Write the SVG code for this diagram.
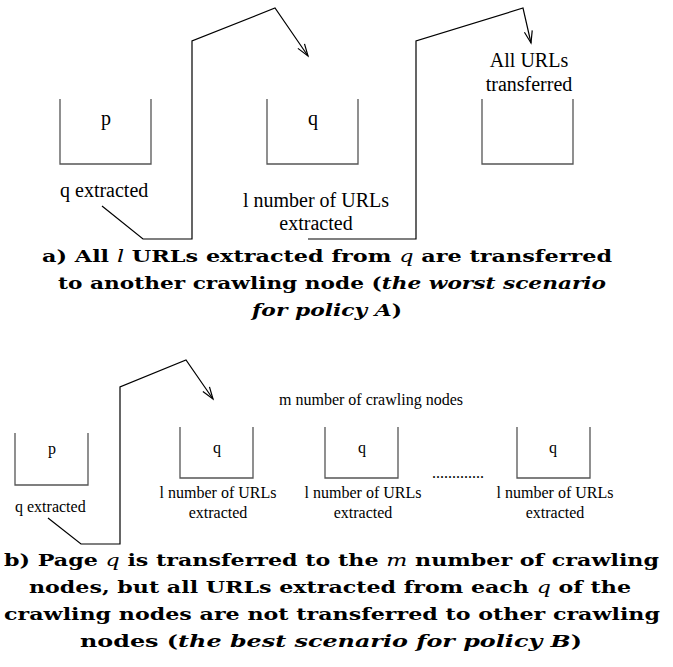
<svg xmlns="http://www.w3.org/2000/svg" width="673" height="667" viewBox="0 0 673 667">
<style>
.box{fill:none;stroke:#555;stroke-width:1.3}
.con{fill:none;stroke:#000;stroke-width:1.2}
.t20{font-family:"Liberation Serif",serif;font-size:20px;fill:#000}
.t16{font-family:"Liberation Serif",serif;font-size:16px;fill:#000}
.cap{font-family:"DejaVu Serif",serif;font-size:17px;font-weight:bold;fill:#000}
.bi{font-style:italic}
.mi{font-style:italic;font-weight:normal}
</style>
<defs>
<marker id="arr" markerWidth="16" markerHeight="12" refX="13" refY="6" orient="auto" markerUnits="userSpaceOnUse">
<path d="M1,2 L13,6 L1,10" fill="none" stroke="#000" stroke-width="1.2"/>
</marker>
</defs>
<rect width="673" height="667" fill="#fff"/>
<g id="connectors">
<polyline class="con" points="102,206 143,239 192,239 192,41 275,8 308,56" marker-end="url(#arr)"/>
<polyline class="con" points="308,239 416,239 416,41 523,8 531,43" marker-end="url(#arr)"/>
<polyline class="con" points="48,518 81,544 120,544 120,387 186,360 213,399" marker-end="url(#arr)"/>
</g>
<g id="a-p"><path class="box" d="M60,99 V164 H151 V99"/><text class="t20" x="106" y="125" text-anchor="middle">p</text></g>
<g id="a-q"><path class="box" d="M267,99 V164 H358 V99"/><text class="t20" x="313" y="125" text-anchor="middle">q</text></g>
<g id="a-r"><path class="box" d="M482,99 V164 H573 V99"/></g>
<g id="a-labels">
<text class="t20" x="60" y="197">q extracted</text>
<text class="t20" x="316" y="207" text-anchor="middle">l number of URLs</text>
<text class="t20" x="316" y="230" text-anchor="middle">extracted</text>
<text class="t20" x="529" y="67" text-anchor="middle">All URLs</text>
<text class="t20" x="529" y="91" text-anchor="middle">transferred</text>
</g>
<g id="caption-a">
<text class="cap" x="42" y="262" textLength="570" lengthAdjust="spacingAndGlyphs">a) All <tspan class="mi">l</tspan> URLs extracted from <tspan class="mi">q</tspan> are transferred</text>
<text class="cap" x="58" y="289" textLength="548" lengthAdjust="spacingAndGlyphs">to another crawling node (<tspan class="bi">the worst scenario</tspan></text>
<text class="cap" x="252" y="316" textLength="150" lengthAdjust="spacingAndGlyphs"><tspan class="bi">for policy A</tspan>)</text>
</g>
<g id="b-p"><path class="box" d="M15,433 V485 H88 V433"/><text class="t16" x="52" y="454" text-anchor="middle">p</text></g>
<g id="b-q1"><path class="box" d="M180,427 V478 H253 V427"/><text class="t16" x="217" y="453" text-anchor="middle">q</text></g>
<g id="b-q2"><path class="box" d="M325,427 V478 H398 V427"/><text class="t16" x="362" y="453" text-anchor="middle">q</text></g>
<g id="b-q3"><path class="box" d="M517,427 V478 H590 V427"/><text class="t16" x="553" y="453" text-anchor="middle">q</text></g>
<g id="b-labels">
<text class="t16" x="279" y="405">m number of crawling nodes</text>
<text class="t16" x="15" y="512">q extracted</text>
<text class="t16" x="218" y="498" text-anchor="middle">l number of URLs</text>
<text class="t16" x="218" y="518" text-anchor="middle">extracted</text>
<text class="t16" x="363" y="498" text-anchor="middle">l number of URLs</text>
<text class="t16" x="363" y="518" text-anchor="middle">extracted</text>
<text class="t16" x="555" y="498" text-anchor="middle">l number of URLs</text>
<text class="t16" x="555" y="518" text-anchor="middle">extracted</text>
<text class="t16" x="432" y="478">.............</text>
</g>
<g id="caption-b">
<text class="cap" x="4" y="566" textLength="655" lengthAdjust="spacingAndGlyphs">b) Page <tspan class="mi">q</tspan> is transferred to the <tspan class="mi">m</tspan> number of crawling</text>
<text class="cap" x="29" y="593" textLength="602" lengthAdjust="spacingAndGlyphs">nodes, but all URLs extracted from each <tspan class="mi">q</tspan> of the</text>
<text class="cap" x="4" y="620" textLength="656" lengthAdjust="spacingAndGlyphs">crawling nodes are not transferred to other crawling</text>
<text class="cap" x="80" y="647" textLength="502" lengthAdjust="spacingAndGlyphs">nodes (<tspan class="bi">the best scenario for policy B</tspan>)</text>
</g>
</svg>
